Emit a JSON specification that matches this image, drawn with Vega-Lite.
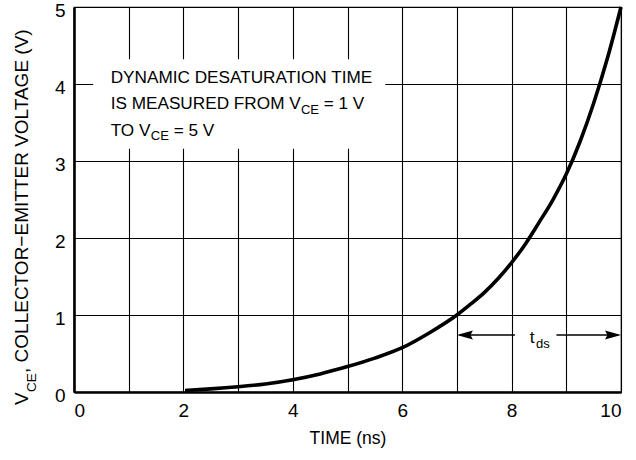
{
  "$schema": "https://vega.github.io/schema/vega-lite/v6.json",
  "width": 547,
  "height": 385,
  "autosize": {"type": "none"},
  "padding": {"left": 74, "top": 7, "right": 15, "bottom": 68},
  "background": "white",
  "config": {
    "view": {"stroke": "black", "strokeWidth": 1.2},
    "font": "Liberation Sans",
    "text": {"font": "Liberation Sans", "color": "black"}
  },
  "datasets": {
    "curve": [
      {"x": 2.03, "y": 0.02},
      {"x": 2.5, "y": 0.04},
      {"x": 3, "y": 0.068},
      {"x": 3.5, "y": 0.105},
      {"x": 4, "y": 0.16},
      {"x": 4.5, "y": 0.235},
      {"x": 5, "y": 0.33},
      {"x": 5.5, "y": 0.44},
      {"x": 6, "y": 0.575},
      {"x": 6.5, "y": 0.77},
      {"x": 7, "y": 1.0},
      {"x": 7.25, "y": 1.14},
      {"x": 7.5, "y": 1.29},
      {"x": 7.75, "y": 1.47},
      {"x": 8, "y": 1.68},
      {"x": 8.25, "y": 1.92},
      {"x": 8.5, "y": 2.2},
      {"x": 8.75, "y": 2.49},
      {"x": 9, "y": 2.83},
      {"x": 9.25, "y": 3.25},
      {"x": 9.5, "y": 3.75},
      {"x": 9.75, "y": 4.33},
      {"x": 10, "y": 5.0}
    ],
    "box": [{"x": 0.35, "x2": 5.69, "y": 3.16, "y2": 4.32}],
    "notes": [
      {"x": 0.67, "y": 4.009, "t": "DYNAMIC DESATURATION TIME"},
      {"x": 0.67, "y": 3.671, "t": "IS MEASURED FROM V"},
      {"x": 4.565, "y": 3.671, "t": "= 1 V"},
      {"x": 0.67, "y": 3.329, "t": "TO V"},
      {"x": 1.822, "y": 3.329, "t": "= 5 V"},
      {"x": 8.33, "y": 0.64, "t": "t"}
    ],
    "subs": [
      {"x": 4.148, "y": 3.613, "t": "CE"},
      {"x": 1.404, "y": 3.27, "t": "CE"},
      {"x": 8.445, "y": 0.575, "t": "ds"}
    ],
    "ytitle": [
      {"x": -0.85, "y": -0.169, "t": "V"},
      {"x": -0.85, "y": 0.247, "t": ", COLLECTOR−EMITTER VOLTAGE (V)"}
    ],
    "ytitlesub": [
      {"x": -0.695, "y": 0.0, "t": "CE"}
    ],
    "shafts": [
      {"x": 7.05, "x2": 8.06, "y": 0.74},
      {"x": 8.82, "x2": 9.95, "y": 0.74}
    ]
  },
  "layer": [
    {
      "data": {"name": "curve"},
      "mark": {"type": "line", "interpolate": "monotone", "color": "black", "strokeWidth": 3.6},
      "encoding": {
        "x": {
          "field": "x", "type": "quantitative",
          "scale": {"domain": [0, 10], "nice": false, "zero": false},
          "axis": {
            "values": [0, 1, 2, 3, 4, 5, 6, 7, 8, 9, 10],
            "labelExpr": "datum.value % 2 === 0 ? format(datum.value, 'd') : ''",
            "grid": true, "gridColor": "black", "gridWidth": 1.1, "gridOpacity": 1,
            "ticks": false,
            "domainColor": "black", "domainWidth": 2.6,
            "labelFontSize": 19, "labelColor": "black", "labelPadding": 9, "labelFont": "Liberation Sans",
            "title": "TIME (ns)", "titleFontSize": 17.5, "titleFontWeight": "normal", "titleColor": "black",
            "titlePadding": 9, "titleFont": "Liberation Sans"
          }
        },
        "y": {
          "field": "y", "type": "quantitative",
          "scale": {"domain": [0, 5], "nice": false, "zero": false},
          "axis": {
            "values": [0, 0.5, 1, 1.5, 2, 2.5, 3, 3.5, 4, 4.5, 5],
            "labelExpr": "datum.value % 1 === 0 ? format(datum.value, 'd') : ''",
            "grid": true, "gridColor": "black", "gridWidth": 1.1, "gridOpacity": 1,
            "ticks": false,
            "domainColor": "black", "domainWidth": 2.6,
            "labelFontSize": 19, "labelColor": "black", "labelPadding": 9, "labelOffset": 3,
            "labelFont": "Liberation Sans",
            "title": null
          }
        }
      }
    },
    {
      "data": {"name": "box"},
      "mark": {"type": "rect", "fill": "white", "stroke": null},
      "encoding": {
        "x": {"field": "x", "type": "quantitative"},
        "x2": {"field": "x2"},
        "y": {"field": "y", "type": "quantitative"},
        "y2": {"field": "y2"}
      }
    },
    {
      "data": {"name": "notes"},
      "mark": {"type": "text", "align": "left", "baseline": "alphabetic", "fontSize": 17.2},
      "encoding": {
        "x": {"field": "x", "type": "quantitative"},
        "y": {"field": "y", "type": "quantitative"},
        "text": {"field": "t"}
      }
    },
    {
      "data": {"name": "subs"},
      "mark": {"type": "text", "align": "left", "baseline": "alphabetic", "fontSize": 13},
      "encoding": {
        "x": {"field": "x", "type": "quantitative"},
        "y": {"field": "y", "type": "quantitative"},
        "text": {"field": "t"}
      }
    },
    {
      "data": {"name": "ytitle"},
      "mark": {"type": "text", "align": "left", "baseline": "alphabetic", "fontSize": 19, "angle": 270},
      "encoding": {
        "x": {"field": "x", "type": "quantitative"},
        "y": {"field": "y", "type": "quantitative"},
        "text": {"field": "t"}
      }
    },
    {
      "data": {"name": "ytitlesub"},
      "mark": {"type": "text", "align": "left", "baseline": "alphabetic", "fontSize": 13.5, "angle": 270},
      "encoding": {
        "x": {"field": "x", "type": "quantitative"},
        "y": {"field": "y", "type": "quantitative"},
        "text": {"field": "t"}
      }
    },
    {
      "data": {"name": "shafts"},
      "mark": {"type": "rule", "color": "black", "strokeWidth": 1.5},
      "encoding": {
        "x": {"field": "x", "type": "quantitative"},
        "x2": {"field": "x2"},
        "y": {"field": "y", "type": "quantitative"}
      }
    },
    {
      "data": {"values": [{"x": 7.146, "y": 0.74}]},
      "mark": {"type": "point", "shape": "M-1,0L1,-0.55L0.7,0L1,0.55Z", "size": 256, "filled": true, "color": "black", "opacity": 1, "strokeWidth": 0},
      "encoding": {
        "x": {"field": "x", "type": "quantitative"},
        "y": {"field": "y", "type": "quantitative"}
      }
    },
    {
      "data": {"values": [{"x": 9.854, "y": 0.74}]},
      "mark": {"type": "point", "shape": "M1,0L-1,-0.55L-0.7,0L-1,0.55Z", "size": 256, "filled": true, "color": "black", "opacity": 1, "strokeWidth": 0},
      "encoding": {
        "x": {"field": "x", "type": "quantitative"},
        "y": {"field": "y", "type": "quantitative"}
      }
    }
  ]
}
